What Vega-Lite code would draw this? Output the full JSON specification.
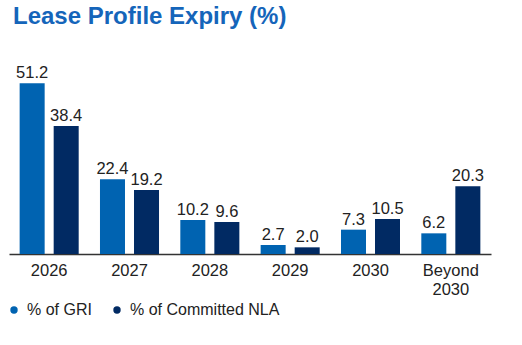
{
  "$schema": "https://vega.github.io/schema/vega-lite/v6.json",
  "autosize": "none",
  "width": 482,
  "height": 200,
  "padding": {"left": 9, "top": 54, "right": 31, "bottom": 91},
  "background": "white",
  "title": {
    "text": "Lease Profile Expiry (%)",
    "anchor": "start",
    "frame": "group",
    "orient": "top",
    "font": "Liberation Sans",
    "fontSize": 24,
    "fontWeight": "bold",
    "color": "#1565BA",
    "dx": 4,
    "dy": 21,
    "offset": 27,
    "baseline": "alphabetic"
  },
  "data": {
    "values": [
      {"year": "2026", "series": "% of GRI", "value": 51.2},
      {"year": "2026", "series": "% of Committed NLA", "value": 38.4},
      {"year": "2027", "series": "% of GRI", "value": 22.4},
      {"year": "2027", "series": "% of Committed NLA", "value": 19.2},
      {"year": "2028", "series": "% of GRI", "value": 10.2},
      {"year": "2028", "series": "% of Committed NLA", "value": 9.6},
      {"year": "2029", "series": "% of GRI", "value": 2.7},
      {"year": "2029", "series": "% of Committed NLA", "value": 2.0},
      {"year": "2030", "series": "% of GRI", "value": 7.3},
      {"year": "2030", "series": "% of Committed NLA", "value": 10.5},
      {"year": "Beyond 2030", "series": "% of GRI", "value": 6.2},
      {"year": "Beyond 2030", "series": "% of Committed NLA", "value": 20.3}
    ]
  },
  "encoding": {
    "x": {
      "field": "year",
      "type": "nominal",
      "sort": null,
      "scale": {"paddingInner": 0.265, "paddingOuter": 0.1325},
      "axis": {
        "title": null,
        "labelAngle": 0,
        "labelFont": "Liberation Sans",
        "labelFontSize": 16.5,
        "labelColor": "#222222",
        "labelPadding": 8,
        "labelLineHeight": 19,
        "ticks": false,
        "domainColor": "#333333",
        "domainWidth": 1.5,
        "labelExpr": "datum.value == 'Beyond 2030' ? ['Beyond', '2030'] : datum.value"
      }
    },
    "xOffset": {
      "field": "series",
      "type": "nominal",
      "sort": ["% of GRI", "% of Committed NLA"],
      "scale": {"paddingInner": 0.265, "paddingOuter": 0}
    },
    "y": {
      "field": "value",
      "type": "quantitative",
      "scale": {"domain": [0, 60], "nice": false},
      "axis": null
    }
  },
  "layer": [
    {
      "mark": {"type": "bar"},
      "encoding": {
        "color": {
          "field": "series",
          "type": "nominal",
          "sort": ["% of GRI", "% of Committed NLA"],
          "scale": {"domain": ["% of GRI", "% of Committed NLA"], "range": ["#0063B1", "#012A63"]},
          "legend": {
            "title": null,
            "orient": "none",
            "direction": "horizontal",
            "legendX": -3,
            "legendY": 248,
            "symbolType": "circle",
            "symbolSize": 55,
            "labelFont": "Liberation Sans",
            "labelFontSize": 16,
            "labelColor": "#222222",
            "labelOffset": 5,
            "columnPadding": 17
          }
        }
      }
    },
    {
      "mark": {"type": "text", "baseline": "alphabetic", "dy": -5, "font": "Liberation Sans", "fontSize": 16.5, "color": "#222222"},
      "encoding": {
        "text": {"field": "value", "type": "quantitative", "format": ".1f"}
      }
    }
  ],
  "config": {"view": {"stroke": null}}
}
